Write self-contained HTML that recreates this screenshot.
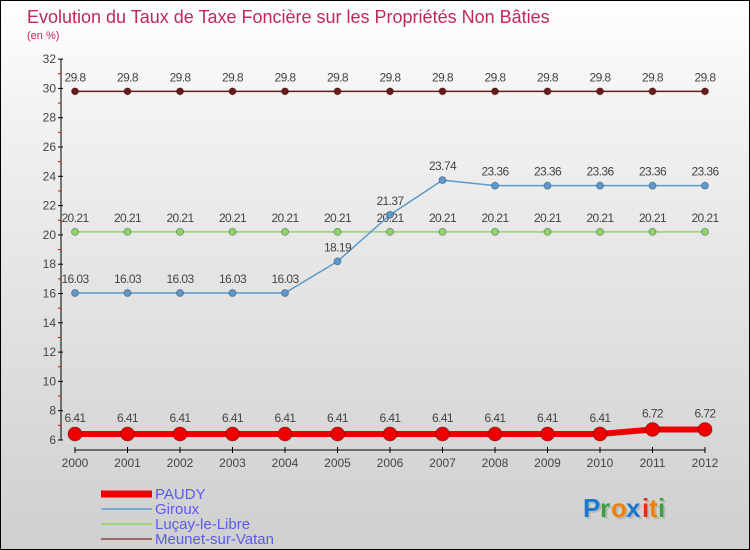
<!DOCTYPE html>
<html><head><meta charset="utf-8"><style>
html,body{margin:0;padding:0}
body{width:750px;height:550px;overflow:hidden;font-family:"Liberation Sans",sans-serif}
#wrap{position:relative;width:748px;height:548px;border:1px solid #000;background:linear-gradient(#fff,#f2f2f2 20%,#cfcfcf)}
</style></head><body>
<div id="wrap">
<svg id="chart" width="748" height="548" style="position:absolute;left:0;top:0"></svg>
</div>
<script>
const years=[2000,2001,2002,2003,2004,2005,2006,2007,2008,2009,2010,2011,2012];
const yTicks=[6,8,10,12,14,16,18,20,22,24,26,28,30,32];
const paudy=[6.41,6.41,6.41,6.41,6.41,6.41,6.41,6.41,6.41,6.41,6.41,6.72,6.72];
const giroux=[16.03,16.03,16.03,16.03,16.03,18.19,21.37,23.74,23.36,23.36,23.36,23.36,23.36];
const lucay=[20.21,20.21,20.21,20.21,20.21,20.21,20.21,20.21,20.21,20.21,20.21,20.21,20.21];
const meunet=[29.8,29.8,29.8,29.8,29.8,29.8,29.8,29.8,29.8,29.8,29.8,29.8,29.8];
const seriesNames=["PAUDY","Giroux","Luçay-le-Libre","Meunet-sur-Vatan"];
const NS="http://www.w3.org/2000/svg";
const svg=document.getElementById('chart');
const X=i=>75+i*52.5-1;
const Y=v=>440-(v-6)*14.65-1;
function el(t,a,p){const e=document.createElementNS(NS,t);for(const k in a)e.setAttribute(k,a[k]);(p||svg).appendChild(e);return e;}
function txt(x,y,s,a){const e=el('text',Object.assign({x:x,y:y},a));e.textContent=s;return e;}
let t=txt(26,22,"Evolution du Taux de Taxe Foncière sur les Propriétés Non Bâties",{fill:"#c0285a","font-size":"18","font-weight":"300"});


t=txt(26,38,"(en %)",{fill:"#c0285a","font-size":"11"});


let a=el('line',{x1:60,y1:Y(32),x2:60,y2:Y(6),stroke:"#000"});


yTicks.forEach((v,i)=>{
  el('line',{x1:57,y1:Y(v),x2:62,y2:Y(v),stroke:"#000"});
  if(i<yTicks.length-1)el('line',{x1:57,y1:Y(v+1),x2:60,y2:Y(v+1),stroke:"#e00"});
  const l=txt(55,Y(v)+4,String(v),{fill:"#444","font-size":"12","text-anchor":"end"});
  
  
});
a=el('line',{x1:X(0),y1:449,x2:X(12),y2:449,stroke:"#000"});


years.forEach((y,i)=>{
  el('line',{x1:X(i),y1:446,x2:X(i),y2:452,stroke:"#000"});
  const l=txt(X(i),466,String(y),{fill:"#444","font-size":"12","text-anchor":"middle"});
  
  
});
function series(vals,col,lw,r,name,dy){
  const g=el('g',{});
  
  
  el('polyline',{points:vals.map((v,i)=>X(i)+','+Y(v)).join(' '),fill:"none",stroke:col,"stroke-width":lw},g);
  vals.forEach((v,i)=>{
    const c=el('circle',{cx:X(i),cy:Y(v),r:r,fill:col,stroke:"rgba(0,0,0,0.3)","stroke-width":1},g);
    
    
    const l=txt(X(i),Y(v)-dy,String(v),{fill:"#444","font-size":"12","text-anchor":"middle","letter-spacing":"-0.6"},g);
    
    
  });
}
series(meunet,"#6b1a1a",1.5,3.5,"meunet",10);
series(lucay,"#8fd66a",1.5,3.5,"lucay",10);
series(giroux,"#5a9ad0",1.5,3.5,"giroux",10);
series(paudy,"#ee0000",6,7,"paudy",12);
const cols=["#ee0000","#7aaed0","#9ad67a","#9a6a6a"],lws=[7,2,2,2];
seriesNames.forEach((n,i)=>{
  const y=492+i*15;
  const g=el('g',{});
  
  
  el('line',{x1:100,y1:y+1,x2:151,y2:y+1,stroke:cols[i],"stroke-width":lws[i]},g);
  txt(154,y+6,n,{fill:"#5a5af0","font-size":"15"},g);
});
const lg=el('g',{});


const letters=[["P","#1a78d0"],["r","#3aa040"],["o","#f08000"],["x","#1a78d0"],["i","#e03010"],["t","#f08000"],["i","#3aa040"]];
let lx=582;
letters.forEach(([c,col],i)=>{txt(lx+2,518,c,{fill:"rgba(0,0,0,0.12)","font-size":"26","font-weight":"bold"},lg);txt(lx,516,c,{fill:col,"font-size":"26","font-weight":"bold"},lg);lx+=[17,11,15,16,7,9,8][i];});
</script>
</body></html>
